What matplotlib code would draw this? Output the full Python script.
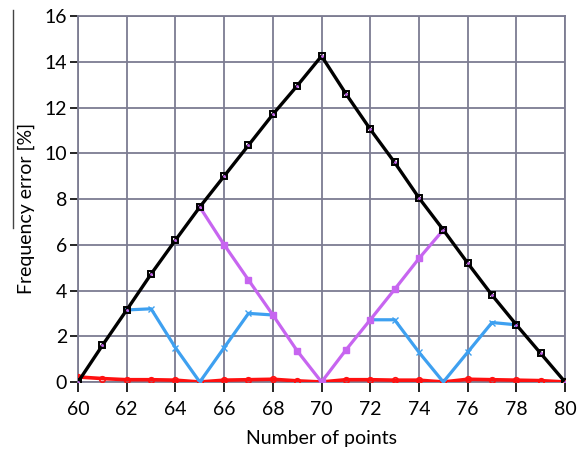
import numpy as np
import matplotlib.pyplot as plt
from matplotlib.lines import Line2D

plt.rcParams['font.family'] = ['Lato', 'DejaVu Sans']

n_points = list(range(60, 81))
err_total = [0.0, 1.6, 3.15, 4.72, 6.2, 7.65, 9.0, 10.35, 11.7, 12.95, 14.25,
             12.6, 11.05, 9.6, 8.05, 6.65, 5.2, 3.8, 2.5, 1.25, 0.0]

n_mid = list(range(65, 76))
err_mid = [7.65, 6.0, 4.46, 2.93, 1.36, 0.0, 1.4, 2.72, 4.05, 5.4, 6.65]

n_low_a = list(range(62, 69))
err_low_a = [3.15, 3.2, 1.5, 0.0, 1.5, 3.0, 2.93]
n_low_b = list(range(72, 79))
err_low_b = [2.72, 2.72, 1.3, 0.0, 1.3, 2.6, 2.5]

err_fine = [0.22, 0.15, 0.1, 0.1, 0.08, 0.0, 0.08, 0.1, 0.12, 0.05, 0.0,
            0.1, 0.1, 0.08, 0.08, 0.0, 0.12, 0.1, 0.08, 0.06, 0.0]

grid_col = '#7c7c92'

fig = plt.figure(figsize=(5.88, 4.51), dpi=100)
ax = fig.add_axes([0.1327, 0.153, 0.8283, 0.8115])

ax.plot(n_points, err_fine, color='#ff1010', lw=2.6, marker='o', ms=4,
        mfc='none', mec='#ff1010', mew=1.2, zorder=3)
ax.plot(n_low_a, err_low_a, color='#3ea0f0', lw=2.3, marker='x', ms=4,
        mew=1, zorder=4)
ax.plot(n_low_b, err_low_b, color='#3ea0f0', lw=2.3, marker='x', ms=4,
        mew=1, zorder=4)
ax.plot(n_mid, err_mid, color='#c765f0', lw=2.3, marker='s', ms=5,
        mec='#c765f0', zorder=5)
ax.plot(n_points, err_total, color='black', lw=2.4, marker='s', ms=5,
        mfc='none', mec='black', mew=1.4, zorder=6)
ax.plot(n_points, err_total, ls='none', marker='.', ms=2, color='#c765f0',
        zorder=7)

ax.set_xlim(60, 80)
ax.set_ylim(0, 16)
ax.set_xticks(range(60, 81, 2))
ax.set_yticks(range(0, 17, 2))
ax.grid(True, color=grid_col, lw=1.3)
ax.set_axisbelow(True)
for side in ['left', 'top', 'right', 'bottom']:
    ax.spines[side].set_color(grid_col)
    ax.spines[side].set_linewidth(1.3)
ax.tick_params(axis='x', length=7, width=1.2, color='black',
               labelsize=14, pad=7)
ax.tick_params(axis='y', length=6, width=1.2, color='black',
               labelsize=14, pad=2)

ax.set_xlabel('Number of points', fontsize=14, labelpad=8)
ax.set_ylabel('Frequency error [%]', fontsize=14)
ax.yaxis.set_label_coords(-0.088, 0.475)

# thin rule beside the y label
fig.add_artist(Line2D([13 / 588, 13 / 588], [1 - 10 / 451, 1 - 228 / 451],
                      transform=fig.transFigure, color='#444444', lw=1))

fig.savefig('out.png', dpi=100)
